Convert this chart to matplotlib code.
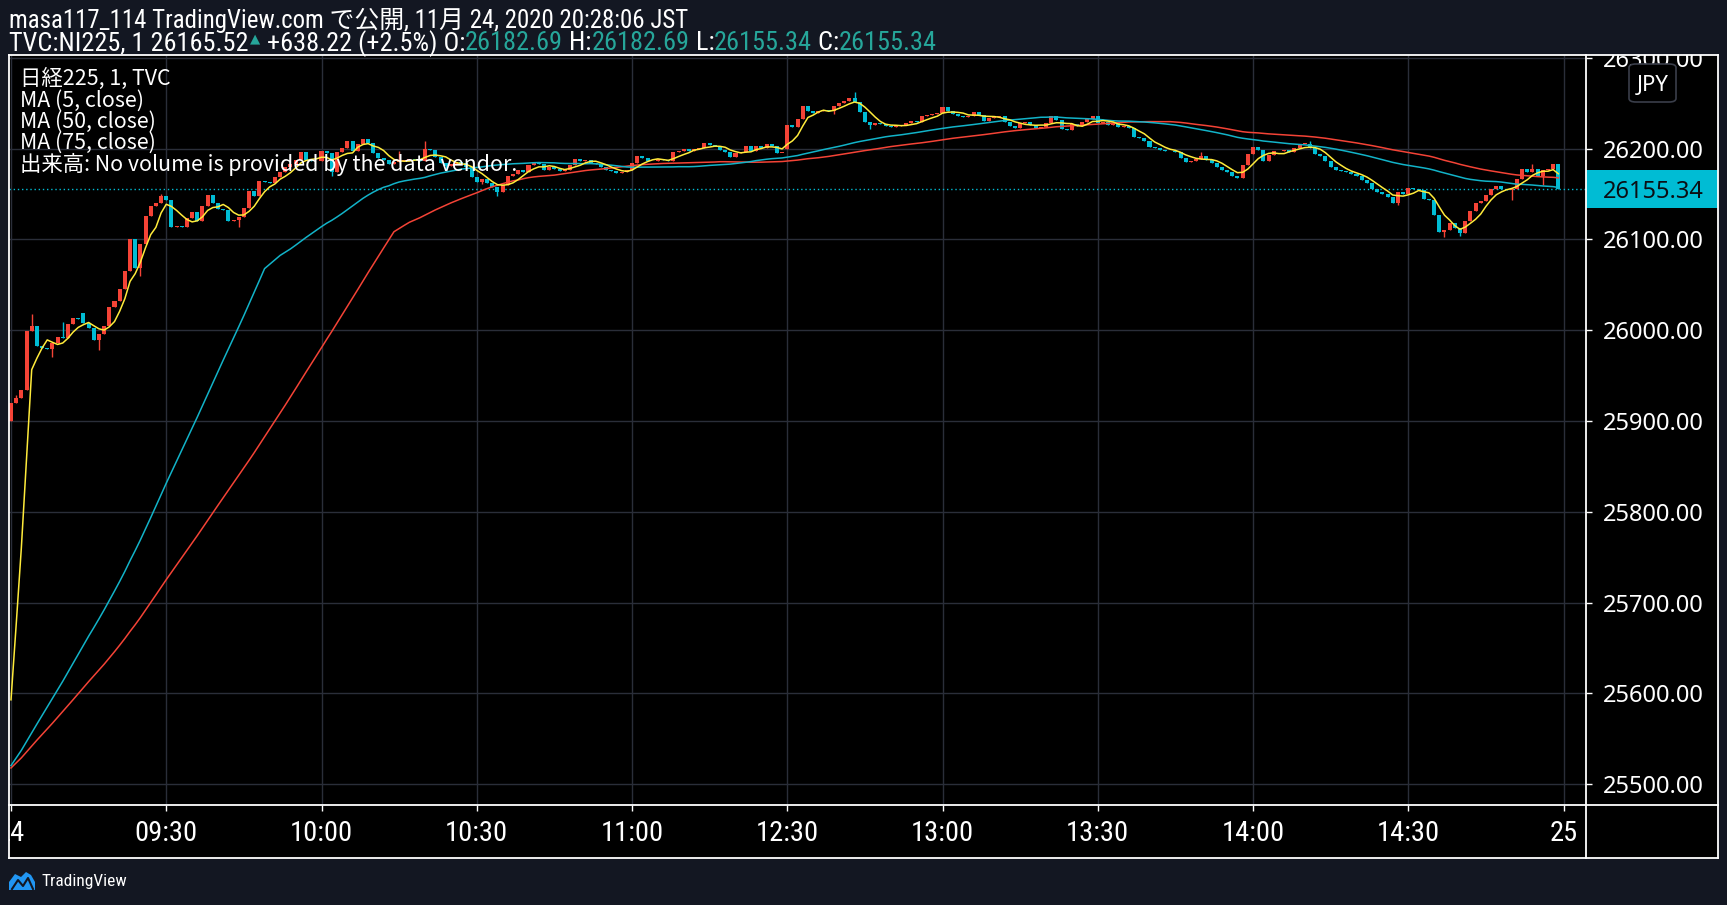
import numpy as np
import pandas as pd
import matplotlib
matplotlib.use("Agg")
import matplotlib.pyplot as plt
from matplotlib import font_manager
from matplotlib.patches import Rectangle, FancyBboxPatch, Polygon
from matplotlib.lines import Line2D

# ---------------- data ----------------
first_open = 25900.0
# last minutes of the previous session (only feed the moving averages)
prev_day_close = [
    25508, 25511, 25514, 25510, 25507, 25512, 25515, 25518, 25513, 25509,
    25511, 25516, 25519, 25514, 25510, 25508, 25512, 25517, 25520, 25516,
    25511, 25509, 25513, 25515, 25512, 25508, 25506, 25510, 25514, 25517,
    25513, 25510, 25512, 25516, 25518, 25514, 25509, 25507, 25511, 25515,
    25519, 25517, 25512, 25508, 25510, 25513, 25516, 25514, 25511, 25509,
    25512, 25515, 25518, 25516, 25512, 25509, 25507, 25510, 25514, 25517,
    25515, 25511, 25508, 25510, 25513, 25516, 25514, 25510, 25508, 25511,
    25513, 25512, 25510, 25511, 25512,
]
close = [
    25920, 25925, 25934, 25999, 26005, 25983, 25981, 25979, 25986, 25993,
    25991, 26007, 26013, 26012, 26008, 26003, 25989, 25996, 26005, 26026,
    26032, 26046, 26065, 26100, 26069, 26095, 26126, 26137, 26140, 26148,
    26143, 26114, 26115, 26114, 26124, 26130, 26120, 26137, 26149, 26140,
    26134, 26133, 26120, 26122, 26125, 26135, 26153, 26148, 26164, 26163,
    26162, 26169, 26174, 26180, 26183, 26188, 26196, 26188, 26186, 26186,
    26197, 26195, 26174, 26196, 26201, 26208, 26198, 26205, 26211, 26206,
    26195, 26190, 26188, 26183, 26185, 26187, 26188, 26189, 26188, 26187,
    26200, 26199, 26191, 26184, 26181, 26183, 26185, 26184, 26180, 26169,
    26163, 26167, 26162, 26158, 26152, 26160, 26170, 26172, 26176, 26174,
    26182, 26185, 26183, 26176, 26180, 26178, 26175, 26176, 26182, 26189,
    26187, 26188, 26184, 26183, 26180, 26177, 26175, 26173, 26174, 26176,
    26184, 26192, 26190, 26187, 26186, 26189, 26188, 26186, 26196, 26198,
    26200, 26198, 26200, 26201, 26206, 26204, 26203, 26199, 26196, 26191,
    26195, 26196, 26203, 26198, 26203, 26201, 26205, 26203, 26195, 26195,
    26226, 26224, 26233, 26247, 26242, 26239, 26241, 26243, 26241, 26247,
    26250, 26253, 26256, 26251, 26240, 26229, 26226, 26228, 26227, 26225,
    26224, 26225, 26226, 26228, 26230, 26229, 26236, 26237, 26238, 26239,
    26246, 26241, 26238, 26236, 26235, 26236, 26240, 26237, 26231, 26234,
    26235, 26236, 26229, 26225, 26223, 26228, 26229, 26226, 26223, 26224,
    26228, 26236, 26232, 26222, 26221, 26227, 26225, 26229, 26233, 26236,
    26228, 26229, 26226, 26228, 26224, 26225, 26223, 26213, 26212, 26209,
    26202, 26201, 26199, 26197, 26198, 26196, 26190, 26185, 26187, 26189,
    26192, 26188, 26184, 26180, 26176, 26174, 26170, 26168, 26182, 26194,
    26202, 26199, 26186, 26193, 26197, 26198, 26199, 26196, 26201, 26205,
    26205, 26201, 26194, 26192, 26186, 26180, 26176, 26175, 26174, 26172,
    26170, 26166, 26162, 26156, 26152, 26150, 26147, 26140, 26152, 26150,
    26157, 26156, 26155, 26145, 26144, 26127, 26108, 26110, 26118, 26113,
    26107, 26120, 26131, 26140, 26142, 26149, 26156, 26159, 26156, 26154,
    26156, 26167, 26178, 26174, 26178, 26170, 26176, 26178, 26182.69, 26155.34,
]
open_override = {14: 26019, 150: 26200, 299: 26182.69}
high_wick = {1: 25929, 4: 26018, 10: 26009, 29: 26150, 75: 26197, 80: 26208,
             163: 26262, 230: 26196, 251: 26209, 294: 26183}
low_wick = {8: 25971, 17: 25978, 25: 26060, 44: 26114, 62: 26170, 84: 26175,
            91: 26161, 94: 26148, 159: 26238, 166: 26222, 268: 26138,
            277: 26103, 280: 26104, 290: 26144, 296: 26160}
ma_periods = [5, 50, 75]
price_ticks = [25500, 25600, 25700, 25800, 25900, 26000, 26100, 26200, 26300]
time_tick_bars = [0, 30, 60, 90, 120, 150, 180, 210, 240, 270, 300]
time_tick_labels = ["24", "09:30", "10:00", "10:30", "11:00", "12:30",
                    "13:00", "13:30", "14:00", "14:30", "25"]
last_price = 26155.34
header_line1 = "masa117_114 TradingView.com で公開, 11月 24, 2020 20:28:06 JST"
header_line2 = [("TVC:NI225, 1 26165.52", "w"), ("▲", "g"),
                (" +638.22 (+2.5%) O:", "w"), ("26182.69", "g"),
                (" H:", "w"), ("26182.69", "g"), (" L:", "w"),
                ("26155.34", "g"), (" C:", "w"), ("26155.34", "g")]
legend_lines = ["日経225, 1, TVC", "MA (5, close)", "MA (50, close)",
                "MA (75, close)", "出来高: No volume is provided by the data vendor."]

# ---------------- style ----------------
BG = "#131722"
UP = "#f44336"
DOWN = "#00bcd4"
MA_COLORS = ["#ffeb3b", "#12b3c8", "#f44336"]
GRID = "#2a2e39"
TEAL = "#26a69a"
CJK = "Noto Sans CJK JP"

fonts = font_manager.fontManager.ttflist
names = {f.name for f in fonts}
NARROW_KW = {"family": "Roboto"}
NARROW_SCALE = 0.88
if "Roboto Condensed" in names:
    NARROW_KW = {"family": "Roboto Condensed"}
    NARROW_SCALE = 1.0
elif "Liberation Sans Narrow" in names:
    NARROW_KW = {"family": "Liberation Sans Narrow"}
    NARROW_SCALE = 1.0
elif any(f.name == "DejaVu Sans" and str(f.stretch) in ("condensed", "semi-condensed")
         for f in fonts):
    NARROW_KW = {"family": "DejaVu Sans", "fontstretch": "condensed"}
    NARROW_SCALE = 0.9
NARROW = NARROW_KW["family"]

W, H = 1727, 905
fig = plt.figure(figsize=(W / 100, H / 100), dpi=100, facecolor=BG)


def fx(px):
    return px / W


def fy(py):
    return 1 - py / H


L, R, PR, T, B, TB = 9, 1586, 1718, 55, 805, 858
PX_PER = 0.9079
Y26200 = 148.7
ytop = 26200 + (Y26200 - T) / PX_PER
ybot = 26200 - (B - Y26200) / PX_PER
BAR0 = 11.0
SP = 5.175
xlim = ((L - BAR0) / SP, (R - BAR0) / SP)

fig.patches.append(Rectangle((fx(L), fy(TB)), fx(PR) - fx(L), fy(T) - fy(TB),
                             transform=fig.transFigure, facecolor="black",
                             edgecolor="none", zorder=-5))

ax = fig.add_axes([fx(L), fy(B), fx(R) - fx(L), fy(T) - fy(B)])
ax.set_facecolor("black")
ax.set_xlim(*xlim)
ax.set_ylim(ybot, ytop)
for s in ax.spines.values():
    s.set_visible(False)
ax.set_xticks(time_tick_bars)
ax.set_yticks(price_ticks)
ax.tick_params(left=False, bottom=False, labelleft=False, labelbottom=False)
ax.grid(True, color=GRID, linewidth=1.0)
ax.set_axisbelow(True)

c = np.array(close, dtype=float)
o = np.empty_like(c)
o[0] = first_open
o[1:] = c[:-1]
for k, v in open_override.items():
    o[k] = v
hi = np.maximum(o, c)
lo = np.minimum(o, c)
for k, v in high_wick.items():
    hi[k] = max(hi[k], v)
for k, v in low_wick.items():
    lo[k] = min(lo[k], v)
xs = np.arange(len(c))
cols = np.where(c >= o, UP, DOWN)

ax.axhline(last_price, color=DOWN, linewidth=1.0, linestyle=(0, (1, 2)), zorder=2)
ax.vlines(xs, lo, hi, colors=cols, linewidth=1.0, zorder=3)
ax.bar(xs, np.maximum(np.abs(c - o), 0.9), bottom=np.minimum(o, c), width=0.78,
       color=cols, linewidth=0, zorder=4)

full = pd.Series(prev_day_close + close, dtype=float)
n_prev = len(prev_day_close)
for n, col, z in zip(ma_periods, MA_COLORS, [7, 6, 5]):
    ma = full.rolling(n).mean().to_numpy()[n_prev:]
    ax.plot(xs, ma, color=col, linewidth=1.1, zorder=z)

# ---------------- price axis ----------------
axp = fig.add_axes([fx(R), fy(B), fx(PR) - fx(R), fy(T) - fy(B)])
axp.set_facecolor("black")
axp.set_xlim(0, 1)
axp.set_ylim(ybot, ytop)
for s in axp.spines.values():
    s.set_visible(False)
axp.set_xticks([])
axp.set_yticks(price_ticks)
axp.tick_params(axis="y", direction="in", length=4, width=1, color="white",
                labelleft=False, left=True)
for p in price_ticks:
    axp.text(0.128, p, f"{p:.2f}", color="white", fontsize=17, family="Noto Sans",
             ha="left", va="center_baseline", clip_on=True)
half = 19 / PX_PER
axp.add_patch(Rectangle((0, last_price - half), 1, 2 * half, facecolor=DOWN,
                        edgecolor="none", zorder=3))
axp.text(0.128, last_price, f"{last_price:.2f}", color="#0b0e14", fontsize=17,
         family="Noto Sans", ha="left", va="center_baseline", zorder=4)
jb = FancyBboxPatch((fx(1629), fy(102)), fx(1676) - fx(1629), fy(64) - fy(102),
                    boxstyle="round,pad=0,rounding_size=0.004",
                    transform=fig.transFigure, facecolor="black",
                    edgecolor="#3a3e4a", linewidth=1.2, zorder=8)
fig.patches.append(jb)
fig.text(fx(1652.5), fy(83), "JPY", color="white", fontsize=16, family="Noto Sans",
         ha="center", va="center_baseline", zorder=9)

# ---------------- time axis ----------------
axt = fig.add_axes([fx(L), fy(TB), fx(R) - fx(L), fy(B) - fy(TB)])
axt.set_facecolor("black")
axt.set_xlim(*xlim)
axt.set_ylim(0, 1)
for s in axt.spines.values():
    s.set_visible(False)
axt.set_yticks([])
axt.set_xticks(time_tick_bars)
axt.tick_params(axis="x", direction="in", length=4, width=1, color="white",
                labelbottom=False, bottom=False, top=True)
for b, lab in zip(time_tick_bars, time_tick_labels):
    axt.text(b, 0.47, lab, color="white", fontsize=20.5 * NARROW_SCALE,
             ha="center", va="center", clip_on=True, **NARROW_KW)

# ---------------- frame lines ----------------
lw = 1.3
for (x0, y0, x1, y1) in [(L, T, PR, T), (L, TB, PR, TB), (L, T, L, TB), (PR, T, PR, TB),
                         (R, T, R, TB), (L, B, PR, B)]:
    fig.add_artist(Line2D([fx(x0), fx(x1)], [fy(y0), fy(y1)], color="white",
                          linewidth=lw, transform=fig.transFigure, zorder=20))

# ---------------- header ----------------
hdr_kw = dict(NARROW_KW)
hdr_kw["family"] = [NARROW, CJK]
hdr_size1 = 17.9 * NARROW_SCALE
hdr_size2 = 18.9 * NARROW_SCALE
fig.text(fx(9), fy(20.5), header_line1, color="white", fontsize=hdr_size1,
         ha="left", va="center", **hdr_kw)
fig.canvas.draw()
renderer = fig.canvas.get_renderer()
xcur = fx(9)
l2_kw = dict(NARROW_KW)
l2_kw["family"] = [NARROW, "DejaVu Sans"]
for s, k in header_line2:
    if s == "▲":
        t = fig.text(xcur + fx(1), fy(38.5), s, color=TEAL, fontsize=9.5,
                     family=["DejaVu Sans"], ha="left", va="center")
    else:
        t = fig.text(xcur, fy(43.5), s, color=("white" if k == "w" else TEAL),
                     fontsize=hdr_size2, ha="left", va="center", **l2_kw)
    bb = t.get_window_extent(renderer)
    xcur = bb.x1 / W + (fx(1) if s == "▲" else 0)

# ---------------- legend ----------------
for i, line in enumerate(legend_lines):
    fig.text(fx(20), fy(79 + 21.3 * i), line, color="white", fontsize=15.4,
             family=[CJK, "DejaVu Sans"], ha="left", va="center", zorder=30)

# ---------------- footer ----------------
logo = Polygon([(fx(9), fy(890)), (fx(9), fy(882)), (fx(15), fy(874)), (fx(21), fy(877)),
                (fx(26), fy(872)), (fx(31), fy(875)), (fx(35), fy(882)), (fx(35), fy(890))],
               closed=True, transform=fig.transFigure, facecolor="#2196f3",
               edgecolor="none")
fig.patches.append(logo)
fig.add_artist(Line2D([fx(12), fx(18), fx(23), fx(28), fx(33)],
                      [fy(889), fy(880), fy(886), fy(878), fy(889)],
                      color=BG, linewidth=1.5, transform=fig.transFigure))
fig.text(fx(41), fy(881), "TradingView", color="white", fontsize=12.5,
         ha="left", va="center", **NARROW_KW)

fig.savefig("out.png", dpi=100, facecolor=BG)
